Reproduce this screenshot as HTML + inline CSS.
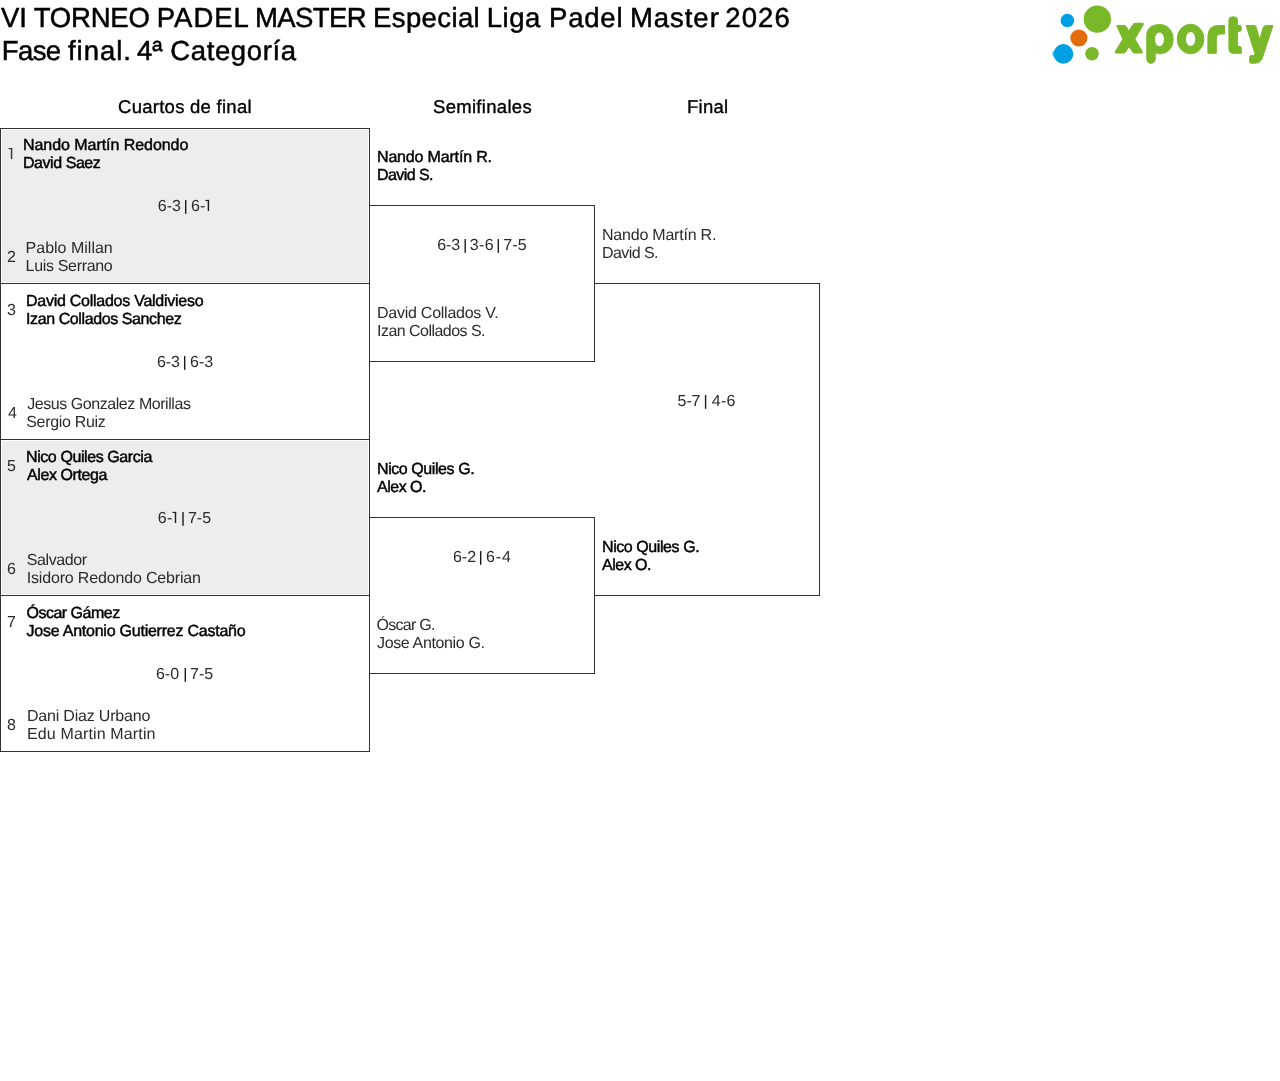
<!DOCTYPE html>
<html><head><meta charset="utf-8"><title>VI TORNEO PADEL MASTER</title>
<style>
html,body{margin:0;padding:0;background:#fff;}
body{width:1280px;height:1081px;position:relative;overflow:hidden;font-family:"Liberation Sans",sans-serif;color:#000;}
.t{position:absolute;white-space:nowrap;text-rendering:geometricPrecision;font-family:"Liberation Sans",sans-serif;color:#000;}
.l{position:absolute;background:#333;}
.g{position:absolute;background:#ededed;}
svg{position:absolute;left:0;top:0;}
</style></head><body>
<div id="wrap" style="position:absolute;left:0;top:0;width:1280px;height:1081px;will-change:transform">
<!-- gray fills -->
<div class="g" style="left:2px;top:130px;width:366px;height:152px"></div>
<div class="g" style="left:2px;top:441px;width:366px;height:153px"></div>
<!-- QF lines -->
<div class="l" style="left:0;top:128px;width:1px;height:624px"></div>
<div class="l" style="left:369px;top:128px;width:1px;height:624px"></div>
<div class="l" style="left:0;top:128px;width:370px;height:1px"></div>
<div class="l" style="left:0;top:283px;width:370px;height:1px"></div>
<div class="l" style="left:0;top:439px;width:370px;height:1px"></div>
<div class="l" style="left:0;top:595px;width:370px;height:1px"></div>
<div class="l" style="left:0;top:751px;width:370px;height:1px"></div>
<!-- SF boxes -->
<div class="l" style="left:369px;top:205px;width:226px;height:1px"></div>
<div class="l" style="left:594px;top:205px;width:1px;height:157px"></div>
<div class="l" style="left:369px;top:361px;width:226px;height:1px"></div>
<div class="l" style="left:369px;top:517px;width:226px;height:1px"></div>
<div class="l" style="left:594px;top:517px;width:1px;height:157px"></div>
<div class="l" style="left:369px;top:673px;width:226px;height:1px"></div>
<!-- Final box -->
<div class="l" style="left:594px;top:283px;width:226px;height:1px"></div>
<div class="l" style="left:819px;top:283px;width:1px;height:313px"></div>
<div class="l" style="left:594px;top:595px;width:226px;height:1px"></div>
<!-- logo -->
<svg width="1280" height="80" viewBox="0 0 1280 80">
<circle cx="1067.4" cy="20.5" r="6.8" fill="#009fe3"/>
<circle cx="1097.3" cy="19.1" r="13.7" fill="#79b829"/>
<circle cx="1078.9" cy="38" r="8.6" fill="#e36c0a"/>
<ellipse cx="1053.6" cy="54" rx="1.6" ry="3" fill="#80cff1"/>
<circle cx="1063.4" cy="53.9" r="9.85" fill="#009fe3"/>
<circle cx="1092" cy="53.7" r="6.8" fill="#79b829"/>
<g fill="#79b829" stroke="#79b829" stroke-width="1" stroke-linejoin="round">
<path d="M1116.8,25.9 Q1116.3,25.4 1117.5,25.4 L1124.2,25.4 Q1125.2,25.4 1125.9,26.4 L1129,31.1 L1132.4,25.2 Q1133.8,23.2 1135.8,23.2 L1142.6,23.2 Q1144,23.3 1143.3,24.5 L1134.9,39 L1142.3,51.8 Q1142.8,53 1141.5,53 L1134.3,53 Q1133.3,53 1132.8,52.2 L1129,46.4 L1125.4,52.2 Q1124.9,53 1123.9,53 L1115.5,53 Q1114.5,52.6 1115.2,51.8 L1122.9,39 Z"/>
<path d="M1146.8,59 L1146.8,35 C1146.8,28.5 1152,24.5 1159.8,24.5 C1167.8,24.5 1173.1,31 1173.1,39.2 C1173.1,47.8 1167.3,53.8 1159.8,53.8 C1157.8,53.8 1156.3,53.3 1155.2,52.6 L1155.2,59 C1155.2,61.8 1153.2,63.3 1151,63.3 C1148.7,63.3 1146.8,61.8 1146.8,59 Z"/>
<ellipse cx="1190.55" cy="39" rx="13.35" ry="14.8"/>
<path d="M1207.9,53.3 L1207.9,37 Q1207.9,25.5 1218.5,25.5 L1224.5,25.5 L1224.5,34 L1221,34 Q1216.3,34 1216.3,39 L1216.3,53.3 Z"/>
<path d="M1228.9,20 Q1228.9,16.9 1232,16.9 L1234.5,16.9 Q1237.4,16.9 1237.4,20 L1237.4,25.5 L1240,25.5 Q1241.3,25.5 1241.3,27.5 L1241.3,29.5 Q1241.3,31.4 1239.5,31.4 L1237.4,31.4 L1237.4,46.5 L1240,46.5 Q1241.3,46.5 1241.3,48.5 L1241.3,53.3 L1233.5,53.3 Q1228.9,53.3 1228.9,48.5 Z"/>
<path d="M1246.1,25.5 L1254.5,25.5 Q1255.8,25.5 1256.3,27.5 L1259.7,39.6 L1263.2,27.5 Q1264,25.5 1266.5,25.5 L1273,25.5 L1262.4,57.8 Q1260.6,63.2 1255,63.2 L1251,63.2 Q1249.7,63.2 1249.7,61.8 L1249.7,57 Q1249.7,55.6 1251.2,55.6 L1253.4,55.6 Q1254.8,55.6 1255,53.8 Z"/>
</g>
<ellipse cx="1159.5" cy="39.35" rx="4.5" ry="6.85" fill="#fff"/>
<ellipse cx="1190.6" cy="39" rx="4.7" ry="7.1" fill="#fff"/>
</svg>
<div class="t" style="left:1.00px;top:4.00px;font-size:27.5px;line-height:27.5px;-webkit-text-stroke:0.5px #000;letter-spacing:0.000px">VI</div>
<div class="t" style="left:33.75px;top:4.00px;font-size:27.5px;line-height:27.5px;-webkit-text-stroke:0.5px #000;letter-spacing:-0.200px">TORNEO</div>
<div class="t" style="left:156.75px;top:4.00px;font-size:27.5px;line-height:27.5px;-webkit-text-stroke:0.5px #000;letter-spacing:1.000px">PADEL</div>
<div class="t" style="left:255.00px;top:4.00px;font-size:27.5px;line-height:27.5px;-webkit-text-stroke:0.5px #000;letter-spacing:-0.600px">MASTER</div>
<div class="t" style="left:373.00px;top:4.00px;font-size:27.5px;line-height:27.5px;-webkit-text-stroke:0.5px #000;letter-spacing:0.393px">Especial</div>
<div class="t" style="left:486.75px;top:4.00px;font-size:27.5px;line-height:27.5px;-webkit-text-stroke:0.5px #000;letter-spacing:0.500px">Liga</div>
<div class="t" style="left:549.00px;top:4.00px;font-size:27.5px;line-height:27.5px;-webkit-text-stroke:0.5px #000;letter-spacing:0.812px">Padel</div>
<div class="t" style="left:629.90px;top:4.00px;font-size:27.5px;line-height:27.5px;-webkit-text-stroke:0.5px #000;letter-spacing:0.970px">Master</div>
<div class="t" style="left:725.25px;top:4.00px;font-size:27.5px;line-height:27.5px;-webkit-text-stroke:0.5px #000;letter-spacing:1.083px">2026</div>
<div class="t" style="left:1.75px;top:37.00px;font-size:27.5px;line-height:27.5px;-webkit-text-stroke:0.5px #000;letter-spacing:-0.583px">Fase</div>
<div class="t" style="left:68.00px;top:37.00px;font-size:27.5px;line-height:27.5px;-webkit-text-stroke:0.5px #000;letter-spacing:0.950px">final.</div>
<div class="t" style="left:137.00px;top:37.00px;font-size:27.5px;line-height:27.5px;-webkit-text-stroke:0.5px #000;letter-spacing:0.000px">4ª</div>
<div class="t" style="left:170.25px;top:37.00px;font-size:27.5px;line-height:27.5px;-webkit-text-stroke:0.5px #000;letter-spacing:0.625px">Categoría</div>
<div class="t" style="left:118.00px;top:98.00px;font-size:18.5px;line-height:18.5px;-webkit-text-stroke:0.35px #000;letter-spacing:0.267px">Cuartos de final</div>
<div class="t" style="left:433.00px;top:98.00px;font-size:18.5px;line-height:18.5px;-webkit-text-stroke:0.35px #000;letter-spacing:0.300px">Semifinales</div>
<div class="t" style="left:687.00px;top:98.00px;font-size:18.5px;line-height:18.5px;-webkit-text-stroke:0.35px #000;letter-spacing:0.250px">Final</div>
<div class="t" style="left:23.00px;top:138.00px;font-size:16px;line-height:16px;-webkit-text-stroke:0.45px #000;letter-spacing:-0.053px">Nando Martín Redondo</div>
<div class="t" style="left:23.00px;top:156.00px;font-size:16px;line-height:16px;-webkit-text-stroke:0.45px #000;letter-spacing:-0.444px">David Saez</div>
<div class="t" style="left:7.00px;top:250.00px;font-size:16px;line-height:16px;color:#2b2b2b;letter-spacing:0.000px">2</div>
<div class="t" style="left:25.60px;top:241.00px;font-size:16px;line-height:16px;color:#2b2b2b;letter-spacing:0.000px">Pablo Millan</div>
<div class="t" style="left:25.60px;top:259.00px;font-size:16px;line-height:16px;color:#2b2b2b;letter-spacing:-0.327px">Luis Serrano</div>
<div class="t" style="left:7.00px;top:303.00px;font-size:16px;line-height:16px;color:#2b2b2b;letter-spacing:0.000px">3</div>
<div class="t" style="left:26.00px;top:294.00px;font-size:16px;line-height:16px;-webkit-text-stroke:0.45px #000;letter-spacing:-0.260px">David Collados Valdivieso</div>
<div class="t" style="left:26.00px;top:312.00px;font-size:16px;line-height:16px;-webkit-text-stroke:0.45px #000;letter-spacing:-0.400px">Izan Collados Sanchez</div>
<div class="t" style="left:8.00px;top:406.00px;font-size:16px;line-height:16px;color:#2b2b2b;letter-spacing:0.000px">4</div>
<div class="t" style="left:27.25px;top:397.00px;font-size:16px;line-height:16px;color:#2b2b2b;letter-spacing:-0.443px">Jesus Gonzalez Morillas</div>
<div class="t" style="left:26.25px;top:415.00px;font-size:16px;line-height:16px;color:#2b2b2b;letter-spacing:-0.325px">Sergio Ruiz</div>
<div class="t" style="left:7.00px;top:459.00px;font-size:16px;line-height:16px;color:#2b2b2b;letter-spacing:0.000px">5</div>
<div class="t" style="left:26.00px;top:450.00px;font-size:16px;line-height:16px;-webkit-text-stroke:0.45px #000;letter-spacing:-0.412px">Nico Quiles Garcia</div>
<div class="t" style="left:27.00px;top:468.00px;font-size:16px;line-height:16px;-webkit-text-stroke:0.45px #000;letter-spacing:-0.400px">Alex Ortega</div>
<div class="t" style="left:7.00px;top:562.00px;font-size:16px;line-height:16px;color:#2b2b2b;letter-spacing:0.000px">6</div>
<div class="t" style="left:26.75px;top:553.00px;font-size:16px;line-height:16px;color:#2b2b2b;letter-spacing:-0.393px">Salvador</div>
<div class="t" style="left:26.75px;top:571.00px;font-size:16px;line-height:16px;color:#2b2b2b;letter-spacing:-0.170px">Isidoro Redondo Cebrian</div>
<div class="t" style="left:7.00px;top:615.00px;font-size:16px;line-height:16px;color:#2b2b2b;letter-spacing:0.000px">7</div>
<div class="t" style="left:26.50px;top:606.00px;font-size:16px;line-height:16px;-webkit-text-stroke:0.45px #000;letter-spacing:-0.500px">Óscar Gámez</div>
<div class="t" style="left:26.50px;top:624.00px;font-size:16px;line-height:16px;-webkit-text-stroke:0.45px #000;letter-spacing:-0.233px">Jose Antonio Gutierrez Castaño</div>
<div class="t" style="left:7.00px;top:718.00px;font-size:16px;line-height:16px;color:#2b2b2b;letter-spacing:0.000px">8</div>
<div class="t" style="left:27.00px;top:709.00px;font-size:16px;line-height:16px;color:#2b2b2b;letter-spacing:-0.200px">Dani Diaz Urbano</div>
<div class="t" style="left:27.00px;top:727.00px;font-size:16px;line-height:16px;color:#2b2b2b;letter-spacing:0.141px">Edu Martin Martin</div>
<div class="t" style="left:377.00px;top:150.00px;font-size:16px;line-height:16px;-webkit-text-stroke:0.45px #000;letter-spacing:-0.171px">Nando Martín R.</div>
<div class="t" style="left:377.00px;top:168.00px;font-size:16px;line-height:16px;-webkit-text-stroke:0.45px #000;letter-spacing:-0.571px">David S.</div>
<div class="t" style="left:377.00px;top:306.00px;font-size:16px;line-height:16px;color:#2b2b2b;letter-spacing:-0.250px">David Collados V.</div>
<div class="t" style="left:377.00px;top:324.00px;font-size:16px;line-height:16px;color:#2b2b2b;letter-spacing:-0.533px">Izan Collados S.</div>
<div class="t" style="left:377.00px;top:462.00px;font-size:16px;line-height:16px;-webkit-text-stroke:0.45px #000;letter-spacing:-0.423px">Nico Quiles G.</div>
<div class="t" style="left:377.00px;top:480.00px;font-size:16px;line-height:16px;-webkit-text-stroke:0.45px #000;letter-spacing:-0.500px">Alex O.</div>
<div class="t" style="left:376.50px;top:618.00px;font-size:16px;line-height:16px;color:#2b2b2b;letter-spacing:-0.729px">Óscar G.</div>
<div class="t" style="left:377.00px;top:636.00px;font-size:16px;line-height:16px;color:#2b2b2b;letter-spacing:-0.357px">Jose Antonio G.</div>
<div class="t" style="left:602.00px;top:228.00px;font-size:16px;line-height:16px;color:#2b2b2b;letter-spacing:-0.214px">Nando Martín R.</div>
<div class="t" style="left:602.00px;top:246.00px;font-size:16px;line-height:16px;color:#2b2b2b;letter-spacing:-0.571px">David S.</div>
<div class="t" style="left:602.00px;top:540.00px;font-size:16px;line-height:16px;-webkit-text-stroke:0.45px #000;letter-spacing:-0.423px">Nico Quiles G.</div>
<div class="t" style="left:602.00px;top:558.00px;font-size:16px;line-height:16px;-webkit-text-stroke:0.45px #000;letter-spacing:-0.500px">Alex O.</div>
<div class="t" style="left:157.85px;top:199.00px;font-size:16px;line-height:16px;color:#2b2b2b;letter-spacing:-0.075px">6-3</div>
<div class="t" style="left:191.06px;top:199.00px;font-size:16px;line-height:16px;color:#2b2b2b;letter-spacing:-0.060px">6-</div>
<div class="t" style="left:156.90px;top:355.00px;font-size:16px;line-height:16px;color:#2b2b2b;letter-spacing:-0.100px">6-3</div>
<div class="t" style="left:190.00px;top:355.00px;font-size:16px;line-height:16px;color:#2b2b2b;letter-spacing:0.050px">6-3</div>
<div class="t" style="left:157.85px;top:511.00px;font-size:16px;line-height:16px;color:#2b2b2b;letter-spacing:0.350px">6-</div>
<div class="t" style="left:187.90px;top:511.00px;font-size:16px;line-height:16px;color:#2b2b2b;letter-spacing:0.050px">7-5</div>
<div class="t" style="left:155.90px;top:667.00px;font-size:16px;line-height:16px;color:#2b2b2b;letter-spacing:0.050px">6-0</div>
<div class="t" style="left:190.00px;top:667.00px;font-size:16px;line-height:16px;color:#2b2b2b;letter-spacing:0.000px">7-5</div>
<div class="t" style="left:437.20px;top:238.00px;font-size:16px;line-height:16px;color:#2b2b2b;letter-spacing:-0.050px">6-3</div>
<div class="t" style="left:469.80px;top:238.00px;font-size:16px;line-height:16px;color:#2b2b2b;letter-spacing:0.350px">3-6</div>
<div class="t" style="left:503.20px;top:238.00px;font-size:16px;line-height:16px;color:#2b2b2b;letter-spacing:0.150px">7-5</div>
<div class="t" style="left:452.90px;top:550.00px;font-size:16px;line-height:16px;color:#2b2b2b;letter-spacing:0.050px">6-2</div>
<div class="t" style="left:485.90px;top:550.00px;font-size:16px;line-height:16px;color:#2b2b2b;letter-spacing:0.900px">6-4</div>
<div class="t" style="left:677.60px;top:394.00px;font-size:16px;line-height:16px;color:#2b2b2b;letter-spacing:-0.100px">5-7</div>
<div class="t" style="left:711.75px;top:394.00px;font-size:16px;line-height:16px;color:#2b2b2b;letter-spacing:0.250px">4-6</div>
<svg width="1280" height="1081" style="position:absolute;left:0;top:0"><rect x="185.0" y="200" width="1.4" height="13.8" fill="#1c1c1c"/><rect x="184.0" y="356" width="1.4" height="13.8" fill="#1c1c1c"/><rect x="182.3" y="512" width="1.4" height="13.8" fill="#1c1c1c"/><rect x="184.6" y="668" width="1.4" height="13.8" fill="#1c1c1c"/><rect x="464.5" y="239" width="1.4" height="13.8" fill="#1c1c1c"/><rect x="497.6" y="239" width="1.4" height="13.8" fill="#1c1c1c"/><rect x="480.0" y="551" width="1.4" height="13.8" fill="#1c1c1c"/><rect x="704.9" y="395" width="1.4" height="13.8" fill="#1c1c1c"/></svg>
<svg width="1280" height="1081" style="position:absolute;left:0;top:0"><rect x="207.7" y="199.9" width="1.4" height="11.099999999999994" fill="#1c1c1c"/><rect x="205.4" y="199.9" width="3.7" height="1.1" fill="#1c1c1c"/><rect x="174.79999999999998" y="511.9" width="1.4" height="11.100000000000023" fill="#1c1c1c"/><rect x="172.5" y="511.9" width="3.7" height="1.1" fill="#1c1c1c"/><rect x="10.85" y="148.0" width="1.4" height="11.0" fill="#333"/><rect x="8.55" y="148.0" width="3.7" height="1.1" fill="#333"/></svg>
</div>
</body></html>
